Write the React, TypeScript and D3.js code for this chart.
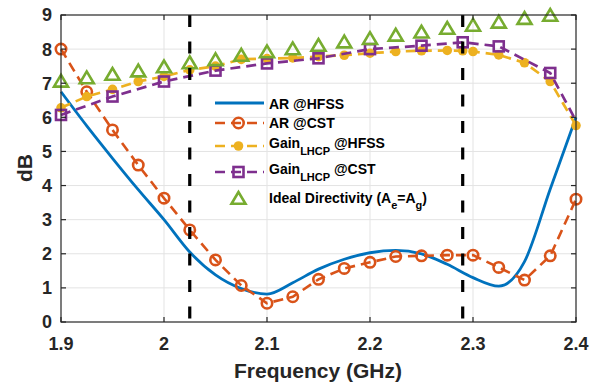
import React from 'react';
import * as d3 from 'd3';

// Frequency grid (GHz) shared by the axial-ratio curves
const FREQ = [1.9, 1.925, 1.95, 1.975, 2.0, 2.025, 2.05, 2.075, 2.1, 2.125, 2.15, 2.175, 2.2, 2.225, 2.25, 2.275, 2.3, 2.325, 2.35, 2.375, 2.4];

// Axial ratio (dB)
const AR_HFSS = [6.75, 5.75, 4.8, 3.88, 3.0, 2.05, 1.38, 0.98, 0.82, 1.15, 1.55, 1.84, 2.03, 2.1, 2.0, 1.69, 1.3, 1.05, 1.77, 3.9, 6.0];
const AR_CST = [8.0, 6.75, 5.63, 4.6, 3.63, 2.7, 1.82, 1.07, 0.55, 0.74, 1.25, 1.57, 1.75, 1.92, 1.94, 1.96, 1.96, 1.6, 1.23, 1.94, 3.6];

// LHCP gain (dBi)
const GAIN_HFSS_FREQ = [1.9, 1.925, 1.95, 1.975, 2.0, 2.025, 2.05, 2.075, 2.1, 2.125, 2.15, 2.175, 2.2, 2.225, 2.25, 2.275, 2.29, 2.3, 2.325, 2.35, 2.375, 2.4];
const GAIN_HFSS = [6.28, 6.61, 6.82, 7.05, 7.2, 7.39, 7.5, 7.7, 7.72, 7.74, 7.78, 7.82, 7.88, 7.93, 7.95, 7.96, 7.95, 7.93, 7.83, 7.6, 7.05, 5.76];
const GAIN_CST_FREQ = [1.9, 1.95, 2.0, 2.05, 2.1, 2.15, 2.2, 2.25, 2.29, 2.325, 2.375, 2.4];
const GAIN_CST = [6.07, 6.61, 7.05, 7.37, 7.58, 7.73, 8.0, 8.1, 8.2, 8.08, 7.3, 5.9];

// Ideal directivity (Ae = Ag)
const DIR_FREQ = [1.9, 1.925, 1.95, 1.975, 2.0, 2.025, 2.05, 2.075, 2.1, 2.125, 2.15, 2.175, 2.2, 2.225, 2.25, 2.275, 2.3, 2.325, 2.35, 2.375];
const DIRECTIVITY = [7.07, 7.17, 7.27, 7.37, 7.49, 7.61, 7.7, 7.83, 7.93, 8.02, 8.12, 8.22, 8.32, 8.42, 8.51, 8.62, 8.71, 8.8, 8.91, 9.0];

// Band edges marked with dashed verticals
const BAND_EDGES = [2.025, 2.29];

const X_TICKS = [1.9, 2.0, 2.1, 2.2, 2.3, 2.4];
const X_TICK_LABELS = ['1.9', '2', '2.1', '2.2', '2.3', '2.4'];
const Y_TICKS = [0, 1, 2, 3, 4, 5, 6, 7, 8, 9];

const C_BLUE = '#0072BD';
const C_ORANGE = '#D95319';
const C_YELLOW = '#EDB120';
const C_PURPLE = '#7E2F8E';
const C_GREEN = '#77AC30';
const C_AXIS = '#262626';
const FONT = '"Liberation Sans", Arial, Helvetica, sans-serif';

type P = [number, number];
const zip = (xs: number[], ys: number[]): P[] => xs.map((x, i) => [x, ys[i]]);

export default function App() {
  const W = 602;
  const H = 383;
  const x = d3.scaleLinear().domain([1.9, 2.4]).range([61, 576]);
  const y = d3.scaleLinear().domain([0, 9]).range([322, 15]);
  const [x0, x1] = x.range();
  const [y0, y1] = y.range();

  const straight = d3.line<P>().x((d) => x(d[0])).y((d) => y(d[1]));
  const smooth = d3.line<P>().x((d) => x(d[0])).y((d) => y(d[1])).curve(d3.curveMonotoneX);

  const arHfss = zip(FREQ, AR_HFSS);
  const arCst = zip(FREQ, AR_CST);
  const gHfss = zip(GAIN_HFSS_FREQ, GAIN_HFSS);
  const gCst = zip(GAIN_CST_FREQ, GAIN_CST);
  const dir = zip(DIR_FREQ, DIRECTIVITY);

  const tri = (cx: number, cy: number) => `M${cx},${cy - 6}L${cx - 7},${cy + 5.8}L${cx + 7},${cy + 5.8}Z`;
  const tick = 5;
  const sq = 10;

  // legend layout
  const lgX0 = 215;
  const lgX1 = 264;
  const lgMid = (lgX0 + lgX1) / 2;
  const lgText = 269;

  return (
    <svg width={W} height={H} style={{ position: 'absolute', left: 0, top: 0, background: '#fff' }} fontFamily={FONT}>
      <rect x={0} y={0} width={W} height={H} fill="#fff" />
      {/* grid */}
      <g stroke="#e3e3e3" strokeWidth={1}>
        {X_TICKS.slice(1, -1).map((t) => (
          <line key={'gx' + t} x1={x(t)} x2={x(t)} y1={y0} y2={y1} />
        ))}
        {Y_TICKS.slice(1, -1).map((t) => (
          <line key={'gy' + t} x1={x0} x2={x1} y1={y(t)} y2={y(t)} />
        ))}
      </g>

      {/* legend (drawn beneath data, no box) */}
      <g fontSize={14} fontWeight="bold" fill="#000">
        <line x1={lgX0} x2={lgX1} y1={103} y2={103} stroke={C_BLUE} strokeWidth={2.8} />
        <text x={lgText} y={109}>AR @HFSS</text>

        <line x1={lgX0} x2={lgX1} y1={123} y2={123} stroke={C_ORANGE} strokeWidth={2.6} strokeDasharray="10,6" />
        <circle cx={lgMid - 1} cy={123} r={5.2} fill="none" stroke={C_ORANGE} strokeWidth={2.6} />
        <text x={lgText} y={128}>AR @CST</text>

        <line x1={lgX0} x2={lgX1} y1={146} y2={146} stroke={C_YELLOW} strokeWidth={2.7} strokeDasharray="10,6" />
        <circle cx={lgMid - 1} cy={146} r={4.8} fill={C_YELLOW} />
        <text x={lgText} y={148}>
          Gain<tspan fontSize={11} dy={7}>LHCP</tspan>
          <tspan dy={-7}> @HFSS</tspan>
        </text>

        <line x1={lgX0} x2={lgX1} y1={172} y2={172} stroke={C_PURPLE} strokeWidth={2.7} strokeDasharray="10,6" />
        <rect x={lgMid - 1 - sq / 2} y={172 - sq / 2} width={sq} height={sq} fill="none" stroke={C_PURPLE} strokeWidth={2.6} />
        <text x={lgText} y={174}>
          Gain<tspan fontSize={11} dy={7}>LHCP</tspan>
          <tspan dy={-7}> @CST</tspan>
        </text>

        <path d={tri(lgMid - 1, 198)} fill="none" stroke={C_GREEN} strokeWidth={2.6} />
        <text x={lgText} y={203}>
          Ideal Directivity (A<tspan fontSize={11} dy={6}>e</tspan>
          <tspan dy={-6}>=A</tspan>
          <tspan fontSize={11} dy={6}>g</tspan>
          <tspan dy={-6}>)</tspan>
        </text>
      </g>

      {/* AR @HFSS */}
      <path d={smooth(arHfss) || ''} fill="none" stroke={C_BLUE} strokeWidth={2.8} />

      {/* AR @CST */}
      <path d={straight(arCst) || ''} fill="none" stroke={C_ORANGE} strokeWidth={2.6} strokeDasharray="10,6" />
      {arCst.map((d, i) => (
        <circle key={'ac' + i} cx={x(d[0])} cy={y(d[1])} r={5.2} fill="none" stroke={C_ORANGE} strokeWidth={2.6} />
      ))}

      {/* Gain LHCP @HFSS */}
      <path d={straight(gHfss) || ''} fill="none" stroke={C_YELLOW} strokeWidth={2.7} strokeDasharray="10,6" />
      {gHfss.map((d, i) => (
        <circle key={'gh' + i} cx={x(d[0])} cy={y(d[1])} r={4.8} fill={C_YELLOW} />
      ))}

      {/* Gain LHCP @CST (end point carries no marker) */}
      <path d={straight(gCst) || ''} fill="none" stroke={C_PURPLE} strokeWidth={2.7} strokeDasharray="10,6" />
      {gCst.slice(0, -1).map((d, i) => (
        <rect key={'gc' + i} x={x(d[0]) - sq / 2} y={y(d[1]) - sq / 2} width={sq} height={sq} fill="none" stroke={C_PURPLE} strokeWidth={2.6} />
      ))}

      {/* Ideal directivity */}
      {dir.map((d, i) => (
        <path key={'dr' + i} d={tri(x(d[0]), y(d[1]))} fill="none" stroke={C_GREEN} strokeWidth={2.6} />
      ))}

      {/* band edges */}
      {BAND_EDGES.map((f) => (
        <line key={'be' + f} x1={x(f)} x2={x(f)} y1={y1} y2={y0} stroke="#000" strokeWidth={3.2} strokeDasharray="12,14.5" />
      ))}

      {/* axes box and ticks */}
      <g stroke={C_AXIS} strokeWidth={1.2} fill="none">
        <rect x={x0} y={y1} width={x1 - x0} height={y0 - y1} />
        {X_TICKS.map((t) => (
          <g key={'xt' + t}>
            <line x1={x(t)} x2={x(t)} y1={y0} y2={y0 - tick} />
            <line x1={x(t)} x2={x(t)} y1={y1} y2={y1 + tick} />
          </g>
        ))}
        {Y_TICKS.map((t) => (
          <g key={'yt' + t}>
            <line x1={x0} x2={x0 + tick} y1={y(t)} y2={y(t)} />
            <line x1={x1} x2={x1 - tick} y1={y(t)} y2={y(t)} />
          </g>
        ))}
      </g>

      {/* tick labels */}
      <g fill={C_AXIS} fontSize={18} fontWeight="bold">
        {X_TICKS.map((t, i) => (
          <text key={'xl' + t} x={x(t)} y={350} textAnchor="middle">{X_TICK_LABELS[i]}</text>
        ))}
        {Y_TICKS.map((t) => (
          <text key={'yl' + t} x={52} y={y(t)} dy="0.36em" textAnchor="end">{t}</text>
        ))}
      </g>

      {/* axis titles */}
      <text x={318} y={378} textAnchor="middle" fontSize={21} fontWeight="bold" fill={C_AXIS}>Frequency (GHz)</text>
      <text transform="translate(32,168) rotate(-90)" textAnchor="middle" fontSize={21} fontWeight="bold" fill={C_AXIS}>dB</text>
    </svg>
  );
}
